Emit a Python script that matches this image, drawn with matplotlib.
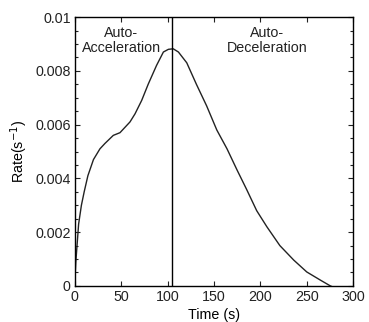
import numpy as np
import matplotlib
matplotlib.use("Agg")
import matplotlib.pyplot as plt
from matplotlib.ticker import MultipleLocator

plt.rcParams['font.family'] = ['Liberation Sans', 'DejaVu Sans']

time_s = [0, 1, 2.5, 4, 7, 10, 14, 20, 27, 32.4, 41.4, 48.6, 59.4, 64.8, 72, 79,
          88, 95.4, 100.8, 106, 111.6, 120.6, 131, 142, 153, 164, 175, 185, 196,
          207, 221, 236, 250, 265, 275.5, 279]
rate = [0.0002, 0.0009, 0.0016, 0.0023, 0.003, 0.0035, 0.0041, 0.0047, 0.0051, 0.0053,
        0.0056, 0.0057, 0.0061, 0.0064, 0.0069, 0.0075, 0.0082, 0.0087, 0.0088, 0.00882,
        0.0087, 0.0083, 0.0075, 0.0067, 0.0058, 0.0051, 0.0043, 0.0036, 0.0028,
        0.0022, 0.0015, 0.00096, 0.00052, 0.00021, 0.0, -0.00005]
divider_t = 105
phase_labels = ["Auto-\nAcceleration", "Auto-\nDeceleration"]
phase_x = [50, 207]

fig = plt.figure(figsize=(3.69, 3.22), dpi=100)
ax = fig.add_axes([0.203, 0.112, 0.754, 0.835])

ax.plot(time_s, rate, color="#222222", lw=1.0)
ax.axvline(divider_t, color="black", lw=1.0)

for lab, x in zip(phase_labels, phase_x):
    ax.text(x, 0.00912, lab, ha="center", va="center", fontsize=10.3,
            linespacing=1.05, color="#222222")

ax.set_xlim(0, 300)
ax.set_ylim(0, 0.01)
ax.set_xticks([0, 50, 100, 150, 200, 250, 300])
ax.set_yticks([0, 0.002, 0.004, 0.006, 0.008, 0.01])
ax.set_yticklabels(["0", "0.002", "0.004", "0.006", "0.008", "0.01"])
ax.yaxis.set_minor_locator(MultipleLocator(0.0005))
ax.tick_params(which="both", direction="in", right=True, top=True, labelsize=10.3,
               colors="#222222", width=0.8, pad=3)
ax.tick_params(which="major", length=3.6)
ax.tick_params(which="minor", length=2.2)
for s in ax.spines.values():
    s.set_linewidth(1.0)

ax.set_xlabel("Time (s)", fontsize=10.3, labelpad=2.5)
ax.set_ylabel("Rate(s$^{-1}$)", fontsize=10.3, labelpad=3.5)

fig.savefig("out.png", dpi=100)
